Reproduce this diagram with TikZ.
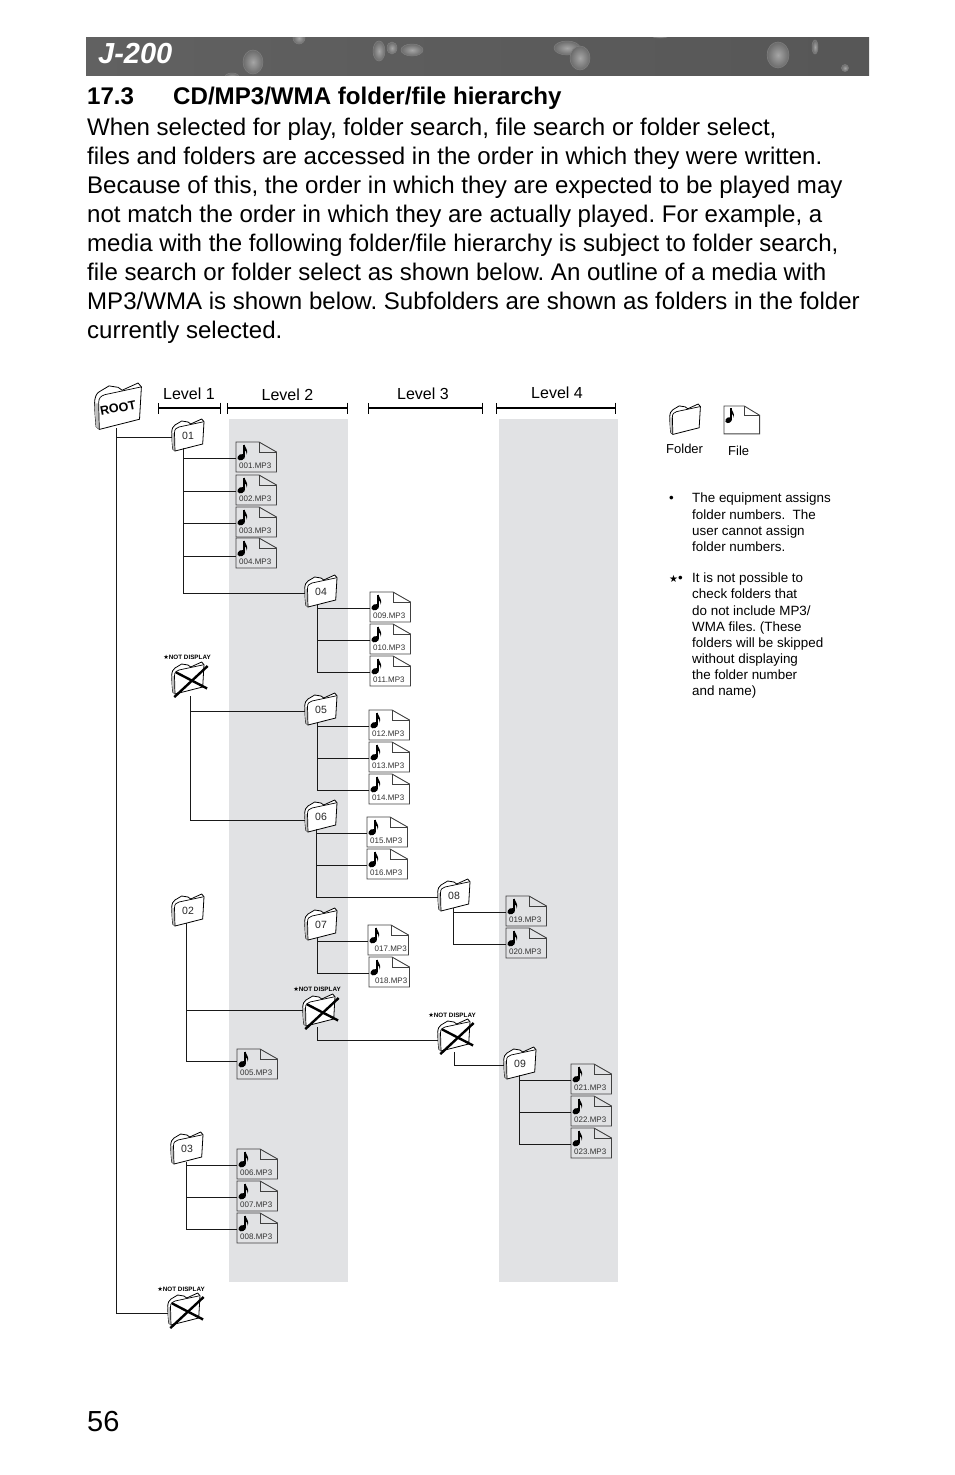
\documentclass[tikz,border=0pt]{standalone}
\usepackage{fontspec}
\usepackage{xcolor}
\setmainfont{Liberation Sans}
\newfontfamily\symfont{DejaVu Sans}
\usetikzlibrary{arrows.meta,positioning,calc}
\definecolor{bandgray}{HTML}{E1E2E4}
\newcommand{\nodisp}{{\symfont ★}NOT DISPLAY}
\tikzset{
  link/.style={line width=0.9pt,draw=black!90},
  fileline/.style={line width=0.9pt,draw=black!75},
  bodytext/.style={anchor=north west,inner sep=0pt,align=left,font=\frenchspacing\fontsize{24.05}{29}\selectfont},
  filetext/.style={anchor=west,inner sep=0pt,text=black!80,font=\fontsize{8}{8}\selectfont},
  foldertext/.style={inner sep=0pt,text=black!85,font=\fontsize{10.5}{10.5}\selectfont},
  leveltext/.style={inner sep=0pt,font=\fontsize{16}{16}\selectfont},
  legendtext/.style={anchor=north west,inner sep=0pt,align=left,font=\frenchspacing\fontsize{13.4}{16.15}\selectfont},
  nodisptext/.style={inner sep=0pt,font=\bfseries\fontsize{6.3}{6.3}\selectfont},
  levelbar/.style={line width=1.4pt,{Bar[width=11pt]}-{Bar[width=11pt]}},
  cross/.style={line width=2.4pt,black},
  drop/.style={draw=black!50,line width=0.5pt,shading=radial,inner color=black!35,outer color=black!58},
  pics/mpfile/.style 2 args={code={
    \node[minimum width=40.5pt,minimum height=30pt,inner sep=0pt,transform shape] (#1) at (20.25,16) {};
    \draw[fileline] (0,0) -- (23,0) -- (40.5,10) -- (40.5,30) -- (0,30) -- cycle;
    \draw[fileline] (23,0) -- (23,10) -- (40.5,10);
    \fill (5.2,15.2) ellipse [x radius=3.9,y radius=3,rotate=25];
    \draw[line width=1.5pt] (8.2,15) -- (8.2,2.5);
    \fill (8.2,2.5) .. controls (8.8,6.5) and (12.6,7) .. (10.8,12.5) .. controls (11,9.5) and (9.5,9) .. (8.2,8) -- cycle;
    \node[filetext] (#1-t) at (3,24) {#2};
  }},
  pics/folder/.style 2 args={code={
    \node[minimum width=32pt,minimum height=28pt,inner sep=0pt,transform shape] (#1) at (16,18) {};
    \draw[line width=0.8pt,fill=white] (3,32) -- (0.7,30) .. controls (0.3,24) and (-0.3,18) .. (-0.3,14)
      .. controls (-0.3,10) and (1,7) .. (3,6) -- (9.7,2) -- (16,3) -- (18.7,5) -- (29.7,0) -- (32,2.7) -- (30.7,25) -- cycle;
    \fill[black!25] (3,32) -- (0.7,30) .. controls (0.3,24) and (-0.3,18) .. (-0.3,14) -- (2.5,14) .. controls (2.7,20) and (2.8,26) .. cycle;
    \draw[line width=0.7pt] (3,32) .. controls (2.8,26) and (2.7,20) .. (2.5,14) .. controls (2.5,10) and (4,9) .. (7,8) -- (31.8,2.7);
    \node[foldertext] (#1-t) at (16,16.5) {#2};
  }},
  pics/nofolder/.style={code={
    \pic at (0,0) {folder={#1}{}};
    \draw[cross] (3.5,9) -- (30.5,23);
    \draw[cross] (2,30.5) -- (31,3.5);
  }}
}

\begin{document}
\begin{tikzpicture}[x=1pt,y=-1pt,>=latex]
  \useasboundingbox (0,0) rectangle (954,1475);

  % header band
  \shade[left color=black!62,middle color=black!50,right color=black!66] (86,37) rectangle (869,75);
  \begin{scope}
    \clip (86,37) rectangle (869,75);
    \foreach \x/\y/\rx/\ry in {253/62/10/12,379/51/6/10,392/48/5/6,412/50/11/6,299/38/6/6,232/77/7/4,
        567/48/13/7,580/58/10/12,778/55/11/13,815/47/3/7,845/68/3.5/3.5,660/36/8/2}
      \path[drop] (\x,\y) ellipse [x radius=\rx,y radius=\ry];
  \end{scope}
  \node[anchor=west,inner sep=0pt,text=white,font=\bfseries\itshape\fontsize{29}{29}\selectfont] (model) at (98,54) {J-200};

  % heading and text
  \node[anchor=base west,inner sep=0pt,font=\bfseries\fontsize{24.1}{29}\selectfont] (secno) at (87,104) {17.3};
  \node[anchor=base west,inner sep=0pt,font=\bfseries\fontsize{24.1}{29}\selectfont] (sectitle) at (173,104) {CD/MP3/WMA folder/file hierarchy};
  \node[bodytext] (intro) at (87,117.5) {When selected for play, folder search, file search or folder select,\\
    files and folders are accessed in the order in which they were written.\\
    Because of this, the order in which they are expected to be played may\\
    not match the order in which they are actually played. For example, a\\
    media with the following folder/file hierarchy is subject to folder search,\\
    file search or folder select as shown below. An outline of a media with\\
    MP3/WMA is shown below. Subfolders are shown as folders in the folder\\
    currently selected.};
  \node[anchor=west,inner sep=0pt,font=\fontsize{29}{29}\selectfont] (pageno) at (87,1421) {56};

  % gray columns
  \fill[bandgray] (229,419) rectangle (348,1282);
  \fill[bandgray] (499,419) rectangle (618,1282);

  % levels
  \foreach \n/\xa/\xb/\xt/\yt in {1/158/221/189/394,2/227/348/287.5/395,3/368/483/423/394,4/496/616/557/393}{
    \coordinate (la\n) at (\xa,408);
    \coordinate (lb\n) at (\xb,408);
    \draw[levelbar] (la\n) -- (lb\n);
    \node[leveltext] (lev\n) at (\xt,\yt) {Level \n};
  }

  % folders
  \pic[scale=1.45] at (95,383) {folder={root}{}};
  \node[inner sep=0pt,rotate=11,font=\bfseries\fontsize{12.5}{12.5}\selectfont] (roottext) at (118,408) {ROOT};
  \foreach \n/\x/\y in {01/172/419,02/172/894,03/171/1132,04/305/575,05/305/693,06/305/800,07/305/908,08/438/879,09/504/1047}
    \pic at (\x,\y) {folder={d\n}{\n}};

  % folders not shown
  \foreach \n/\x/\y/\xt/\yt in {1/172/662/187/657,2/303/994/317/989,3/438/1019/452/1015,4/168/1293/181/1289}{
    \pic[scale=1.15] at (\x,\y) {nofolder={n\n}};
    \node[nodisptext] (nt\n) at (\xt,\yt) {\nodisp};
  }

  % files
  \foreach \n/\x/\y in {001/236/442,002/236/475,003/236/507,004/236/538,009/370/592,010/370/624,011/370/656,
      012/369/710,013/369/742,014/369/774,015/367/817,016/367/849,019/506/896,020/506/928,
      005/237/1049,006/237/1149,007/237/1181,008/237/1213,021/571/1064,022/571/1096,023/571/1128}
    \pic at (\x,\y) {mpfile={f\n}{\n.MP3}};
  \pic at (368,925) {mpfile={f017}{\hspace{3.5pt}017.MP3}};
  \pic at (369,957) {mpfile={f018}{\hspace{3pt}018.MP3}};

  % stems
  \coordinate (sroot) at (116,428);
  \coordinate (s01) at (183,448);
  \coordinate (s02) at (186,923);
  \coordinate (s03) at (186,1162);
  \coordinate (s04) at (317,604);
  \coordinate (s05) at (317,722);
  \coordinate (s06) at (316,829);
  \coordinate (s07) at (317,937);
  \coordinate (s08) at (453,908);
  \coordinate (s09) at (519,1075);
  \coordinate (sn1) at (190,696);
  \coordinate (sn2) at (317,1027);
  \coordinate (sn3) at (454,1052);

  % tree
  \foreach \a/\b in {sroot/d01,s01/f001,s01/f002,s01/f003,s01/d04,s04/f009,s04/f010,s04/f011,
      sn1/d05,s05/f012,s05/f013,s05/f014,s06/f015,s06/f016,s06/d08,s07/f017,s07/f018,
      s08/f019,s08/f020,sn3/d09,s09/f021,s09/f022,s09/f023,s03/f006,s03/f007,s03/f008}
    \draw[link] (\a) |- (\b.west);
  \draw[link] (s01) |- ([yshift=-2pt]f004.west);
  \draw[link] (s02) |- ([yshift=4pt]f005.west);
  \draw[link] (sn1) |- ([yshift=-2pt]d06.west);
  \draw[link] (s02) |- ([yshift=2pt]n2.west);
  \draw[link] (sn2) |- ([yshift=-3pt]n3.west);
  \draw[link] (sroot) |- ([yshift=-2pt]n4.west);

  % legend
  \pic[scale=0.95] at (670,404) {folder={legfolder}{}};
  \pic[xscale=0.88,yscale=0.93] at (724,406) {mpfile={legfile}{}};
  \node[anchor=west,inner sep=0pt,font=\fontsize{13}{13}\selectfont] (legfoldertext) at (666,449) {Folder};
  \node[anchor=west,inner sep=0pt,font=\fontsize{13}{13}\selectfont] (legfiletext) at (728,451) {File};
  \node[anchor=base west,inner sep=0pt,font=\fontsize{13.4}{16}\selectfont] (bullet1) at (669,502.5) {•};
  \node[legendtext] (note1) at (692,493) {The equipment assigns\\folder numbers.\ \ The\\user cannot assign\\folder numbers.};
  \node[anchor=base west,inner sep=0pt,font=\fontsize{13.4}{16}\selectfont] (bullet2) at (669,582) {{\symfont\fontsize{10}{16}\selectfont ★}•};
  \node[legendtext] (note2) at (692,572.8) {It is not possible to\\check folders that\\do not include MP3/\\WMA files. (These\\folders will be skipped\\without displaying\\the folder number\\and name)};
\end{tikzpicture}
\end{document}
